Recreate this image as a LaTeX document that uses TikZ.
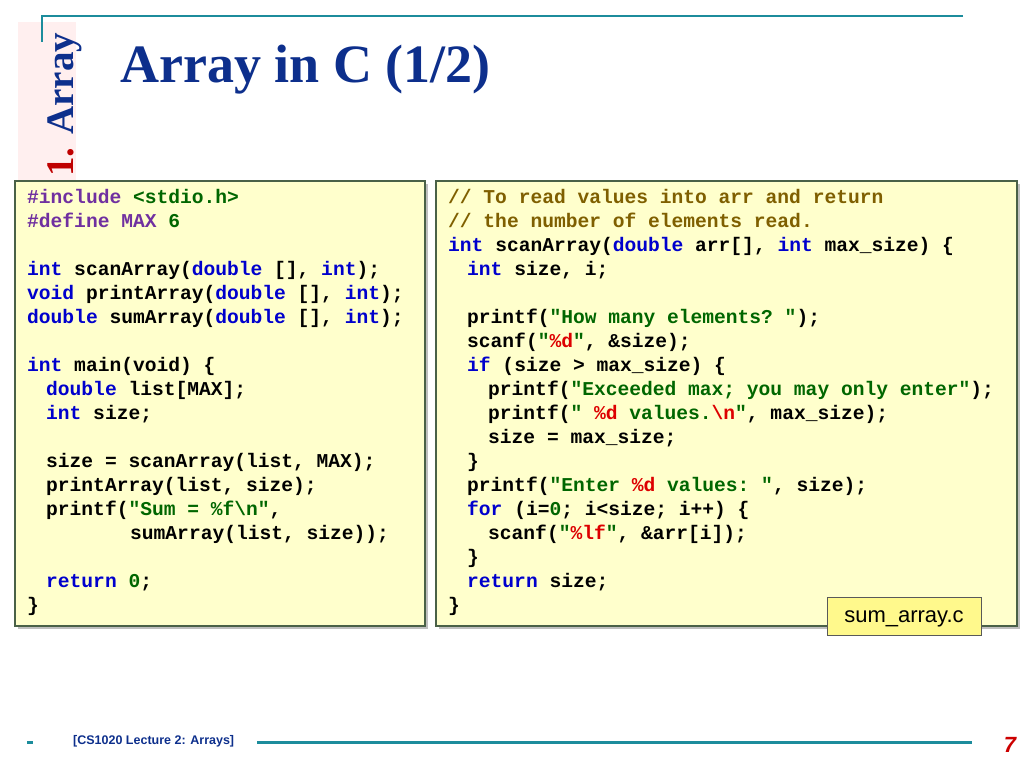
\documentclass[tikz,border=0pt]{standalone}
\usepackage{fontspec}
\setmainfont{Liberation Serif}
\setsansfont{Liberation Sans}
\setmonofont{Liberation Mono}
\definecolor{kw}{HTML}{0000CC}
\definecolor{pp}{HTML}{7030A0}
\definecolor{st}{HTML}{006600}
\definecolor{cm}{HTML}{7F5F00}
\definecolor{rd}{HTML}{DD0000}
\definecolor{ttl}{HTML}{0D2F8C}
\definecolor{teal}{HTML}{1C8C9C}
\definecolor{panel}{HTML}{FFFFCC}
\definecolor{pbord}{HTML}{4A6147}
\newcommand{\kw}[1]{\textcolor{kw}{#1}}
\newcommand{\pp}[1]{\textcolor{pp}{#1}}
\newcommand{\st}[1]{\textcolor{st}{#1}}
\newcommand{\cm}[1]{\textcolor{cm}{#1}}
\newcommand{\rd}[1]{\textcolor{rd}{#1}}
\newcommand{\ia}{\hspace*{19pt}}
\newcommand{\ib}{\hspace*{40pt}}
\tikzset{
 codepanel/.style={draw=pbord,line width=2.5pt,fill=panel},
 code/.style={anchor=north west,inner sep=0pt,align=left,font=\fontsize{19.6}{24}\selectfont\ttfamily\bfseries}
}
\begin{document}
\begin{tikzpicture}[x=1pt,y=-1pt]
\useasboundingbox (0,0) rectangle (1024,768);
% side tab
\fill[pink!25] (18,22) rectangle (76,180);
\draw[teal,line width=1.5pt] (963,16) -- (42,16) -- (42,42);
\node[rotate=90,anchor=west,font=\fontsize{39}{39}\selectfont\bfseries,inner sep=0] (tab) at (65,177) {\textcolor{red!75!black}{1.} \textcolor{ttl}{Array}};
\node[anchor=west,font=\fontsize{54}{54}\selectfont\bfseries,text=ttl,inner sep=0] (title) at (120,70) {Array in C (1/2)};
% shadows
\fill[gray!50] (18,184) rectangle (428,629);
\fill[gray!50] (439,184) rectangle (1020,629);
\draw[codepanel] (15,181) rectangle (425,626);
\draw[codepanel] (436,181) rectangle (1017,626);
\node[code] (left) at (27,189) {%
\pp{\#include} \st{<stdio.h>}\\
\pp{\#define MAX} \st{6}\\
\strut\\
\kw{int} scanArray(\kw{double} [], \kw{int});\\
\kw{void} printArray(\kw{double} [], \kw{int});\\
\kw{double} sumArray(\kw{double} [], \kw{int});\\
\strut\\
\kw{int} main(void) \{\\
\ia\kw{double} list[MAX];\\
\ia\kw{int} size;\\
\strut\\
\ia size = scanArray(list, MAX);\\
\ia printArray(list, size);\\
\ia printf(\st{"Sum = \%f\textbackslash n"},\\
\hspace*{103pt}sumArray(list, size));\\
\strut\\
\ia\kw{return} \st{0};\\
\}};
\node[code] (right) at (448,189) {%
\cm{// To read values into arr and return}\\
\cm{// the number of elements read.}\\
\kw{int} scanArray(\kw{double} arr[], \kw{int} max\_size) \{\\
\ia\kw{int} size, i;\\
\strut\\
\ia printf(\st{"How many elements? "});\\
\ia scanf(\st{"}\rd{\%d}\st{"}, \&size);\\
\ia\kw{if} (size > max\_size) \{\\
\ib printf(\st{"Exceeded max; you may only enter"});\\
\ib printf(\st{"\ }\rd{\%d}\st{\ values.}\rd{\textbackslash n}\st{"}, max\_size);\\
\ib size = max\_size;\\
\ia\}\\
\ia printf(\st{"Enter\ }\rd{\%d}\st{\ values: "}, size);\\
\ia\kw{for} (i=\st{0}; i<size; i++) \{\\
\ib scanf(\st{"}\rd{\%lf}\st{"}, \&arr[i]);\\
\ia\}\\
\ia\kw{return} size;\\
\}};
\node[draw=gray!70!black,line width=1pt,fill=yellow!45,minimum width=154pt,minimum height=38pt,text height=14pt,text depth=2pt,inner sep=0,font=\sffamily\fontsize{22}{22}\selectfont] (file) at (904,616) {sum\_array.c};
% footer
\draw[teal,line width=3pt] (27,742) -- (33,742);
\node[anchor=west,inner sep=0,font=\sffamily\bfseries\fontsize{12.5}{13}\selectfont,text=ttl] (foot) at (73,741) {[CS1020 Lecture 2: Arrays]};
\draw[teal,line width=3pt] (257,742) -- (972,742);
\node[inner sep=0,font=\sffamily\bfseries\itshape\fontsize{22}{22}\selectfont,text=red!80!black] (page) at (1010,745) {7};
\end{tikzpicture}
\end{document}
